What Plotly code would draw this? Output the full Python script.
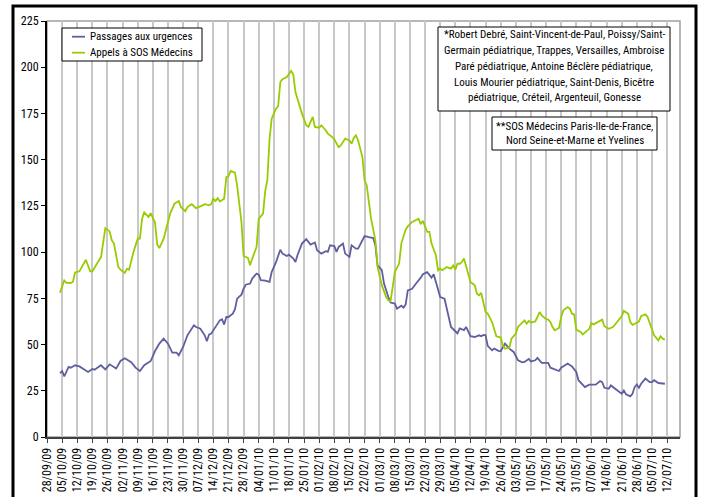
import pandas as pd
import plotly.graph_objects as go

START = pd.Timestamp("2009-09-28")

# Passages aux urgences (day offset from 28/09/09, value)
urg_days = [6, 7, 8, 10, 11, 13, 15, 17, 19, 21, 22, 25, 27, 29, 32, 34, 36, 39, 41, 43, 45, 48, 50, 52,
            54, 56, 58, 60, 61, 63, 65, 68, 69, 71, 73, 74, 75, 76, 78, 80, 81, 82, 83, 84, 86, 87, 88,
            90, 91, 92, 94, 95, 97, 98, 99, 101, 103, 104, 106, 108, 109, 111, 112, 114, 115, 116, 118,
            120, 122, 124, 125, 127, 129, 130, 131, 133, 134, 135, 137, 138, 140, 141, 143, 144, 146,
            147, 149, 151, 152, 153, 155, 156, 158, 159, 161, 162, 164, 165, 166, 167, 169, 170, 171,
            173, 174, 176, 177, 178, 179, 180, 182, 184, 185, 186, 187, 189, 190, 191, 193, 194, 195,
            196, 198, 200, 201, 202, 203, 204, 206, 207, 209, 210, 212, 213, 214, 216, 218, 220, 221,
            223, 224, 226, 227, 229, 230, 232, 233, 235, 237, 238, 240, 241, 243, 245, 246, 248, 249,
            251, 253, 254, 256, 257, 258, 260, 261, 263, 265, 266, 267, 268, 270, 271, 272, 273, 274,
            275, 277, 279, 280, 281, 283, 285, 286]
urg_vals = [34.6, 35.7, 32.8, 37.9, 37.5, 38.8, 38.2, 36.6, 35.2, 36.8, 36.4, 38.8, 36.6, 39.3, 37.0,
            41.1, 42.6, 40.4, 37.5, 35.7, 38.8, 41.1, 46.5, 50.5,
            53.2, 50.5, 45.6, 45.6, 44.2, 48.7, 55.0, 60.4, 59.5, 58.6, 55.0, 51.8, 55.4, 55.9, 59.5,
            63.1, 63.7, 60.8, 64.9, 64.9, 66.7, 69.1, 74.8,
            77.0, 80.2, 82.4, 83.0, 85.7, 88.4, 87.8, 84.8, 84.6, 83.9, 89.2, 94.6, 101.3, 99.2, 97.9,
            98.6, 96.5, 94.6, 98.6, 104.6,
            107.0, 104.1, 105.2, 101.0, 99.2, 100.5, 100.1, 103.7, 103.3, 100.1, 102.8, 104.6, 99.2,
            97.4, 103.7, 101.9, 101.9, 106.4,
            108.7, 108.1, 107.6, 103.7, 92.9, 90.2, 83.0, 75.7, 72.7, 72.2, 69.4, 71.0, 70.0, 71.6,
            79.3, 80.2, 81.5, 83.3,
            86.2, 88.0, 89.2, 87.4, 86.2, 88.0, 83.8, 75.7, 74.8, 69.4, 65.8, 59.5, 57.2, 56.0, 58.7,
            57.8, 59.5, 56.8,
            54.5, 54.1, 55.0, 54.5, 55.2, 55.0, 49.3, 46.9, 47.8, 46.6, 46.4, 50.5, 49.2, 47.8, 46.0,
            41.5, 40.4, 40.6,
            42.2, 40.9, 41.5, 42.8, 40.1, 40.1, 40.1, 37.5, 36.4, 35.7, 37.5, 38.8, 39.7, 38.2, 35.2,
            30.7, 28.0, 27.0,
            28.3, 28.4, 28.3, 30.2, 29.7, 26.6, 26.1, 27.9, 26.1, 24.3, 23.4, 25.2, 23.1, 22.0, 23.4,
            27.0, 28.4, 26.6,
            28.8, 31.6, 29.7, 29.7, 30.7, 29.2, 28.8, 28.8]

# Appels à SOS Médecins (day offset from 28/09/09, value)
sos_days = [6, 8, 9, 11, 12, 13, 15, 16, 18, 20, 21, 24, 25, 27, 29, 30, 31, 33, 34, 36, 37, 38, 40,
            42, 43, 44, 45, 47, 48, 50, 51, 52, 54, 57, 59, 61, 62, 64, 65, 67, 69, 72, 73, 75, 76, 77,
            78, 79, 80, 82, 83, 84, 85, 87, 88, 90, 91, 93, 94, 95, 97, 98, 100, 101, 102, 103, 104,
            105, 106, 107, 108, 109, 111, 113, 114, 115, 118, 120, 121, 123, 124, 126, 127, 129, 130,
            132, 133, 135, 136, 138, 140, 141, 142, 143, 144, 146, 147, 148, 150, 152, 153, 155, 157,
            158, 159, 160, 161, 163, 164, 166, 167, 169, 170, 172, 173, 174, 176, 177, 178, 180, 181,
            182, 183, 185, 187, 188, 189, 190, 191, 192, 193, 194, 196, 198, 199, 200, 201, 203, 204,
            206, 208, 210, 211, 212, 214, 215, 217, 218, 220, 221, 222, 223, 224, 226, 227, 228, 229,
            231, 232, 233, 234, 235, 237, 238, 239, 241, 242, 243, 244, 245, 247, 248, 251, 252, 253,
            255, 256, 257, 258, 260, 262, 264, 265, 266, 267, 269, 270, 271, 273, 274, 275, 277, 278,
            280, 281, 283, 284, 285, 286]
sos_vals = [78.0, 84.7, 83.4, 83.3, 84.0, 89.0, 89.6, 91.6, 95.9, 89.6, 89.6, 95.5, 97.3, 113.0, 111.2,
            106.4, 104.6, 92.0, 90.5, 88.7, 90.9, 90.5, 100.0,
            107.3, 107.3, 118.1, 121.5, 119.0, 121.1, 116.0, 104.2, 102.2, 107.3, 120.8, 126.2, 127.6,
            124.4, 122.1, 124.4, 125.9, 123.8, 125.3, 125.9, 125.3, 125.9, 128.9,
            127.6, 129.2, 127.4, 128.9, 140.6, 141.0, 143.9, 143.0, 136.1, 116.3, 97.9, 96.9, 92.9,
            96.5, 102.8, 118.0, 120.8, 133.0, 139.0, 161.0, 172.2,
            174.9, 177.6, 179.0, 192.0, 193.5, 194.7, 198.0, 196.0, 186.6, 174.9, 168.6, 167.7, 173.1,
            167.7, 167.3, 168.6, 165.9, 164.1,
            162.2, 161.0, 156.8, 157.7, 161.4, 160.4, 158.6, 161.7, 163.2, 160.4, 151.4, 138.8, 136.1,
            118.1, 106.4, 92.0, 82.0, 75.7,
            73.9, 73.4, 81.1, 89.2, 93.8, 104.6, 112.2, 113.9, 116.3, 116.9, 118.1, 115.1, 116.9, 110.9,
            110.9, 104.6, 98.3, 90.2,
            91.1, 90.2, 91.9, 91.1, 92.8, 90.5, 93.7, 93.7, 94.6, 96.5, 91.9, 83.8, 82.0, 77.5, 76.6,
            77.9, 67.6, 66.7,
            62.2, 54.5, 53.8, 49.6, 47.8, 48.2, 53.2, 55.9, 59.5, 62.2, 63.1, 61.3, 62.8, 61.9, 62.5,
            64.9, 67.6, 65.8,
            63.7, 63.5, 62.2, 59.5, 57.7, 59.0, 64.9, 68.5, 70.3, 69.4, 66.7, 66.3, 58.1, 56.8, 55.5,
            58.5, 61.6, 60.9,
            62.2, 63.1, 63.5, 59.9, 58.5, 59.5, 62.2, 64.0, 65.3, 68.2, 66.7, 62.2, 60.7, 61.8, 62.4,
            65.3, 66.3, 64.9,
            58.5, 55.0, 52.3, 54.5, 53.2, 52.7]

tick_labels = ["28/09/09", "05/10/09", "12/10/09", "19/10/09", "26/10/09", "02/11/09", "09/11/09",
               "16/11/09", "23/11/09", "30/11/09", "07/12/09", "14/12/09", "21/12/09", "28/12/09",
               "04/01/10", "11/01/10", "18/01/10", "25/01/10", "01/02/10", "08/02/10", "15/02/10",
               "22/02/10", "01/03/10", "08/03/10", "15/03/10", "22/03/10", "29/03/10", "05/04/10",
               "12/04/10", "19/04/10", "26/04/10", "03/05/10", "10/05/10", "17/05/10", "24/05/10",
               "31/05/10", "07/06/10", "14/06/10", "21/06/10", "28/06/10", "05/07/10", "12/07/10"]

series_names = ["Passages aux urgences", "Appels à SOS Médecins"]
series_colors = ["#5F5FA0", "#99CC00"]

note_hospitals = ["*Robert Debré, Saint-Vincent-de-Paul, Poissy/Saint-",
                  "Germain pédiatrique, Trappes, Versailles, Ambroise",
                  "Paré pédiatrique, Antoine Béclère pédiatrique,",
                  "Louis Mourier pédiatrique, Saint-Denis, Bicêtre",
                  "pédiatrique, Créteil, Argenteuil, Gonesse"]
note_sos = ["**SOS Médecins Paris-Ile-de-France,",
            "Nord Seine-et-Marne et Yvelines"]

FONT = ("Liberation Sans Narrow, Arial Narrow, Roboto Condensed, DejaVu Sans Condensed, "
        "Liberation Sans, Arial, sans-serif")

urg_x = START + pd.to_timedelta(urg_days, unit="D")
sos_x = START + pd.to_timedelta(sos_days, unit="D")
tick_vals = pd.to_datetime(tick_labels, format="%d/%m/%y")

fig = go.Figure()
fig.add_trace(go.Scatter(x=urg_x, y=urg_vals, mode="lines", name=series_names[0], showlegend=False,
                         line=dict(color=series_colors[0], width=1.8)))
fig.add_trace(go.Scatter(x=sos_x, y=sos_vals, mode="lines", name=series_names[1], showlegend=False,
                         line=dict(color=series_colors[1], width=1.8)))

W, H = 703, 497
ML, MR, MT, MB = 47, 23, 21, 60
pw, ph = W - ML - MR, H - MT - MB


def px(x):
    return (x - ML) / pw


def py(y):
    return (H - MB - y) / ph


annotations = []
shapes = [
    dict(type="rect", xref="paper", yref="paper", x0=0, x1=1, y0=0, y1=1,
         line=dict(color="#A0A0A0", width=1.5), layer="below"),
    # legend box
    dict(type="rect", xref="paper", yref="paper", x0=px(62), x1=px(202), y0=py(61), y1=py(28),
         line=dict(color="black", width=1), fillcolor="white", layer="above"),
    # note boxes
    dict(type="rect", xref="paper", yref="paper", x0=px(438), x1=px(670), y0=py(111), y1=py(27),
         line=dict(color="black", width=1), fillcolor="white", layer="above"),
    dict(type="rect", xref="paper", yref="paper", x0=px(492), x1=px(657), y0=py(150), y1=py(117),
         line=dict(color="black", width=1), fillcolor="white", layer="above"),
    # outer frame
    dict(type="path", xref="paper", yref="paper",
         path=f"M {px(13)} {py(520)} L {px(13)} {py(6)} L {px(696)} {py(6)} L {px(696)} {py(520)}",
         line=dict(color="black", width=3)),
]

for i, (name, color) in enumerate(zip(series_names, series_colors)):
    yy = 36.7 + 16 * i
    shapes.append(dict(type="line", xref="paper", yref="paper", x0=px(72), x1=px(85),
                       y0=py(yy), y1=py(yy), line=dict(color=color, width=1.8), layer="above"))
    annotations.append(dict(text=name, xref="paper", yref="paper", x=px(88), y=py(yy),
                            xanchor="left", yanchor="middle", showarrow=False,
                            font=dict(family=FONT, size=11, color="black")))

for i, line in enumerate(note_hospitals):
    annotations.append(dict(text=line, xref="paper", yref="paper", x=px(554), y=py(34.5 + 15.85 * i),
                            xanchor="center", yanchor="middle", showarrow=False,
                            font=dict(family=FONT, size=11, color="black")))
for i, line in enumerate(note_sos):
    annotations.append(dict(text=line, xref="paper", yref="paper", x=px(574.5), y=py(126 + 14.5 * i),
                            xanchor="center", yanchor="middle", showarrow=False,
                            font=dict(family=FONT, size=11, color="black")))

fig.update_layout(
    width=W, height=H,
    margin=dict(l=ML, r=MR, t=MT, b=MB, pad=0, autoexpand=False),
    paper_bgcolor="white", plot_bgcolor="white",
    font=dict(family=FONT, size=12, color="black"),
    showlegend=False,
    xaxis=dict(type="date", range=[START, START + pd.Timedelta(days=293)],
               tickmode="array", tickvals=tick_vals, ticktext=tick_labels, tickangle=-90,
               showgrid=True, gridcolor="#C8C8C8", gridwidth=1.5,
               ticks="outside", ticklen=4, tickcolor="#404040", tickwidth=1,
               showline=True, linecolor="#404040", linewidth=2, zeroline=False,
               tickfont=dict(family=FONT, size=12)),
    yaxis=dict(range=[0, 225], tick0=0, dtick=25, showgrid=False, zeroline=False,
               ticks="outside", ticklen=4, tickcolor="black", tickwidth=1,
               showline=True, linecolor="black", linewidth=2,
               tickfont=dict(family=FONT, size=12)),
    shapes=shapes,
    annotations=annotations,
)

fig.write_html("out.html", config={"displayModeBar": False},
               post_script="document.body.style.margin='0';")
